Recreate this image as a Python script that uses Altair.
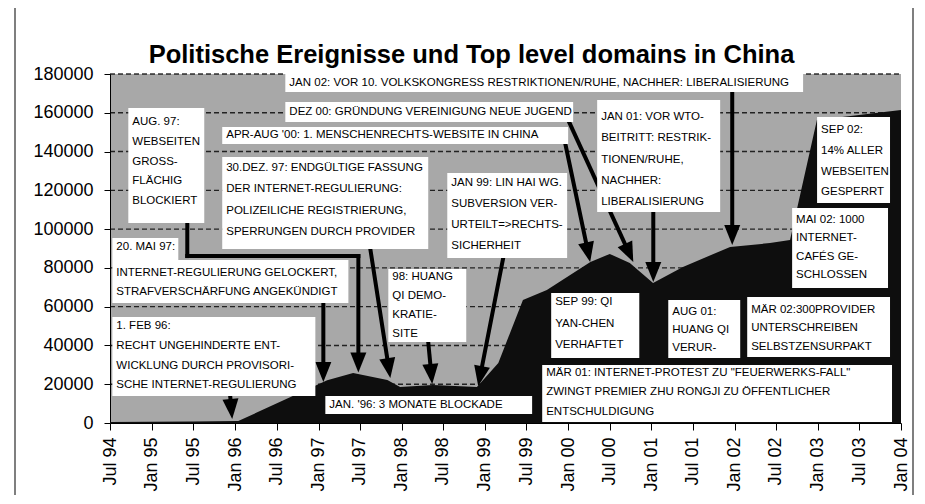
import math
from datetime import datetime, timezone

import altair as alt
import pandas as pd

# ---------------------------------------------------------------- data
TITLE = "Politische Ereignisse und Top level domains in China"

series_dates = ["1994-07-01", "1995-01-01", "1995-07-01", "1996-01-15", "1997-02-08",
                "1997-06-02", "1997-10-30", "1997-12-25", "1998-05-18", "1998-11-27",
                "1999-03-01", "1999-06-17", "1999-09-30", "2000-04-08", "2000-07-02",
                "2000-09-28", "2001-01-08", "2001-05-19", "2001-12-12", "2002-06-05",
                "2002-09-01", "2002-12-28", "2004-01-01"]
series_values = [500, 600, 800, 1000, 22000,
                 25800, 22200, 18600, 19600, 18600,
                 31000, 63400, 68600, 83000, 87200,
                 82500, 72200, 80500, 90800, 92800,
                 94400, 156300, 161400]

x_tick_dates = ["1994-07-01", "1995-01-01", "1995-07-01", "1996-01-01", "1996-07-01",
                "1997-01-01", "1997-07-01", "1998-01-01", "1998-07-01", "1999-01-01",
                "1999-07-01", "2000-01-01", "2000-07-01", "2001-01-01", "2001-07-01",
                "2002-01-01", "2002-07-01", "2003-01-01", "2003-07-01", "2004-01-01"]
y_ticks = [0, 20000, 40000, 60000, 80000, 100000, 120000, 140000, 160000, 180000]

# annotation boxes: x in decimal years, y in domain counts
ann_lines = [
    ["JAN 02: VOR 10. VOLKSKONGRESS RESTRIKTIONEN/RUHE, NACHHER: LIBERALISIERUNG"],
    ["DEZ 00: GRÜNDUNG VEREINIGUNG NEUE JUGEND"],
    ["APR-AUG '00: 1. MENSCHENRECHTS-WEBSITE IN CHINA"],
    ["AUG. 97:", "WEBSEITEN", "GROSS-", "FLÄCHIG", "BLOCKIERT"],
    ["30.DEZ. 97: ENDGÜLTIGE FASSUNG", "DER INTERNET-REGULIERUNG:",
     "POLIZEILICHE REGISTRIERUNG,", "SPERRUNGEN DURCH PROVIDER"],
    ["20. MAI 97:"],
    ["INTERNET-REGULIERUNG GELOCKERT,", "STRAFVERSCHÄRFUNG ANGEKÜNDIGT"],
    ["1. FEB 96:", "RECHT UNGEHINDERTE ENT-", "WICKLUNG DURCH PROVISORI-",
     "SCHE INTERNET-REGULIERUNG"],
    ["98: HUANG", "QI DEMO-", "KRATIE-", "SITE"],
    ["JAN 99: LIN HAI WG.", "SUBVERSION VER-", "URTEILT=>RECHTS-", "SICHERHEIT"],
    ["JAN. '96: 3 MONATE BLOCKADE"],
    ["JAN 01: VOR WTO-", "BEITRITT: RESTRIK-", "TIONEN/RUHE,", "NACHHER:", "LIBERALISIERUNG"],
    ["SEP 02:", "14% ALLER", "WEBSEITEN", "GESPERRT"],
    ["MAI 02: 1000", "INTERNET-", "CAFÉS GE-", "SCHLOSSEN"],
    ["MÄR 02:300PROVIDER", "UNTERSCHREIBEN", "SELBSTZENSURPAKT"],
    ["AUG 01:", "HUANG QI", "VERUR-"],
    ["SEP 99: QI", "YAN-CHEN", "VERHAFTET"],
    ['MÄR 01: INTERNET-PROTEST ZU "FEUERWERKS-FALL"',
     "ZWINGT PREMIER ZHU RONGJI ZU ÖFFENTLICHER", "ENTSCHULDIGUNG"],
]
ann_x_left = [1996.602, 1996.602, 1995.845, 1994.716, 1995.845, 1994.524, 1994.524, 1994.524,
              1997.839, 1998.548, 1997.082, 2000.349, 2002.991, 2002.691, 2002.151, 2001.202,
              1999.797, 1999.689]
ann_x_right = [2002.823, 2000.061, 2000.001, 1995.629, 1998.319, 1995.317, 1997.359, 1996.962,
               1998.776, 1999.989, 1999.568, 2001.826, 2003.868, 2003.844, 2003.868, 2002.067,
               2000.854, 2003.892]
ann_y_top = [180500, 165600, 152700, 162500, 137200, 95400, 84100, 54700,
             79400, 128900, 13900, 166600, 157800, 110900, 65000, 63400,
             67000, 29900]
ann_y_bottom = [170700, 155200, 143900, 103200, 89700, 84100, 61900, 13900,
                41800, 85100, 4600, 108800, 113500, 69600, 34000, 33500,
                33500, 500]
ann_first_line = [175600, 160400, 148300, 155200, 131500, 90800, 77400, 50000,
                  75300, 123800, 9300, 157800, 151100, 104700, 58300, 57200,
                  62400, 25800]
ann_line_step = [0, 0, 0, 10200, 11000, 0, 9800, 10200,
                 9800, 10800, 0, 11000, 10700, 9450, 9550, 9300,
                 11100, 10050]

# arrows: list of (decimal year, value) points, last point is the tip
arrows = [
    [(2001.971, 170700), (2001.971, 91800)],
    [(2000.001, 156300), (2000.782, 83000)],
    [(1999.965, 144400), (2000.265, 83000)],
    [(1995.425, 103200), (1995.425, 86100), (1997.479, 86100), (1997.479, 26000)],
    [(1997.623, 89700), (1997.863, 23200)],
    [(1997.058, 61900), (1997.058, 21100)],
    [(1995.941, 13900), (1995.965, 2100)],
    [(1998.319, 41800), (1998.367, 20100)],
    [(1999.220, 85100), (1998.920, 19100)],
    [(2001.022, 108800), (2001.022, 72700)],
]

# ---------------------------------------------------------------- layout
W, H = 791, 349
X0, X1 = 1994.5, 2004.0
YMAX = 180000
PX_PER_YEAR = W / (X1 - X0)
UNITS_PER_PX = YMAX / H
FONT = "Liberation Sans"
ANN_SIZE = 11.5
HEAD = 20  # px, arrowhead length


def dy2iso(d):
    year = int(math.floor(d))
    start = datetime(year, 1, 1, tzinfo=timezone.utc)
    end = datetime(year + 1, 1, 1, tzinfo=timezone.utc)
    t = start + (end - start) * (d - year)
    return t.strftime("%Y-%m-%dT%H:%M:%SZ")


def ms(s):
    return int(pd.Timestamp(s, tz="UTC").value // 10**6)


area_df = pd.DataFrame({"date": series_dates, "domains": series_values})

rect_rows, text_rows = [], []
for i, lines in enumerate(ann_lines):
    rect_rows.append({"x1": dy2iso(ann_x_left[i]), "x2": dy2iso(ann_x_right[i]),
                      "y1": ann_y_top[i], "y2": ann_y_bottom[i]})
    for k, ln in enumerate(lines):
        text_rows.append({"x": dy2iso(ann_x_left[i] + 4 / PX_PER_YEAR),
                          "y": ann_first_line[i] - k * ann_line_step[i], "t": ln})
rect_df = pd.DataFrame(rect_rows)
text_df = pd.DataFrame(text_rows)

seg_rows, head_rows = [], []
for pts in arrows:
    (xa, ya), (xt, yt) = pts[-2], pts[-1]
    dxp = (xt - xa) * PX_PER_YEAR
    dyp = -(yt - ya) / UNITS_PER_PX  # screen y grows downward
    ln = math.hypot(dxp, dyp)
    ux, uy = dxp / ln, dyp / ln
    cx = xt - (HEAD / 2) * ux / PX_PER_YEAR
    cy = yt + (HEAD / 2) * uy * UNITS_PER_PX
    ang = math.degrees(math.atan2(ux, -uy)) % 360
    head_rows.append({"x": dy2iso(cx), "y": cy, "ang": ang})
    full = pts[:-1] + [(cx, cy)]
    for (p, q) in zip(full[:-1], full[1:]):
        seg_rows.append({"x": dy2iso(p[0]), "x2": dy2iso(q[0]), "y": p[1], "y2": q[1]})
seg_df = pd.DataFrame(seg_rows)
head_df = pd.DataFrame(head_rows)
grid_df = pd.DataFrame({"v": y_ticks[1:]})

x_scale = alt.Scale(type="utc", domain=[ms("1994-07-01"), ms("2004-01-01")], nice=False)
y_scale = alt.Scale(domain=[0, YMAX], nice=False)

x_axis = alt.Axis(values=[ms(d) for d in x_tick_dates],
                  labelExpr="utcFormat(datum.value, '%b %y')",
                  labelAngle=270, labelFontSize=18, labelFont=FONT, labelColor="black",
                  labelOverlap=False, labelPadding=7, tickSize=7, tickColor="black",
                  domainColor="black", grid=False, title=None)
y_axis = alt.Axis(values=y_ticks, format="d", labelFontSize=18, labelFont=FONT,
                  labelColor="black", labelOverlap=False, tickSize=6, tickColor="black",
                  labelPadding=11, domainColor="black", grid=False, title=None)


def X(field):
    return alt.X(field, scale=x_scale, axis=x_axis)


def Y(field):
    return alt.Y(field, scale=y_scale, axis=y_axis)


one = pd.DataFrame({"a": [0]})

frame = alt.Chart(one).mark_rect(
    fill="transparent", stroke="#555555", strokeWidth=1.5
).encode(x=alt.value(-95), x2=alt.value(803), y=alt.value(-68), y2=alt.value(440))

title = alt.Chart(one).mark_text(
    font=FONT, fontSize=25.5, fontWeight="bold", color="black",
    align="center", baseline="alphabetic"
).encode(x=alt.value(W / 2 - 34), y=alt.value(-11), text=alt.value(TITLE))

grid = alt.Chart(grid_df).mark_rule(color="#000000", strokeWidth=1.4, strokeDash=[5, 3],
                                    opacity=0.8).encode(
    y=Y("v:Q"), x=alt.value(0), x2=alt.value(W),
)

area = alt.Chart(area_df).mark_area(color="#0e0e0e", opacity=1).encode(
    x=X("date:T"), y=Y("domains:Q"),
)

segs = alt.Chart(seg_df).mark_rule(color="black", strokeWidth=4, strokeCap="square").encode(
    x=X("x:T"), x2="x2:T", y=Y("y:Q"), y2="y2:Q",
)

heads = alt.Chart(head_df).mark_point(
    shape="M0,-1L0.8,1L-0.8,1Z", filled=True, size=HEAD * HEAD, color="black",
    opacity=1, strokeWidth=0
).encode(
    x=X("x:T"), y=Y("y:Q"), angle=alt.Angle("ang:Q", scale=None),
)

rects = alt.Chart(rect_df).mark_rect(color="white", opacity=1).encode(
    x=X("x1:T"), x2="x2:T", y=Y("y1:Q"), y2="y2:Q",
)

texts = alt.Chart(text_df).mark_text(
    align="left", baseline="middle", font=FONT, fontSize=ANN_SIZE, color="black"
).encode(
    x=X("x:T"), y=Y("y:Q"), text="t:N",
)

chart = alt.layer(frame, title, grid, area, segs, heads, rects, texts).properties(
    width=W, height=H,
    autosize=alt.AutoSizeParams(type="none"),
    padding={"left": 102, "top": 66, "right": 16, "bottom": 72},
).configure_view(
    fill="#a8a8a8", stroke="transparent", strokeWidth=0
)

chart.save("out.html", embed_options={"renderer": "svg", "actions": False})
